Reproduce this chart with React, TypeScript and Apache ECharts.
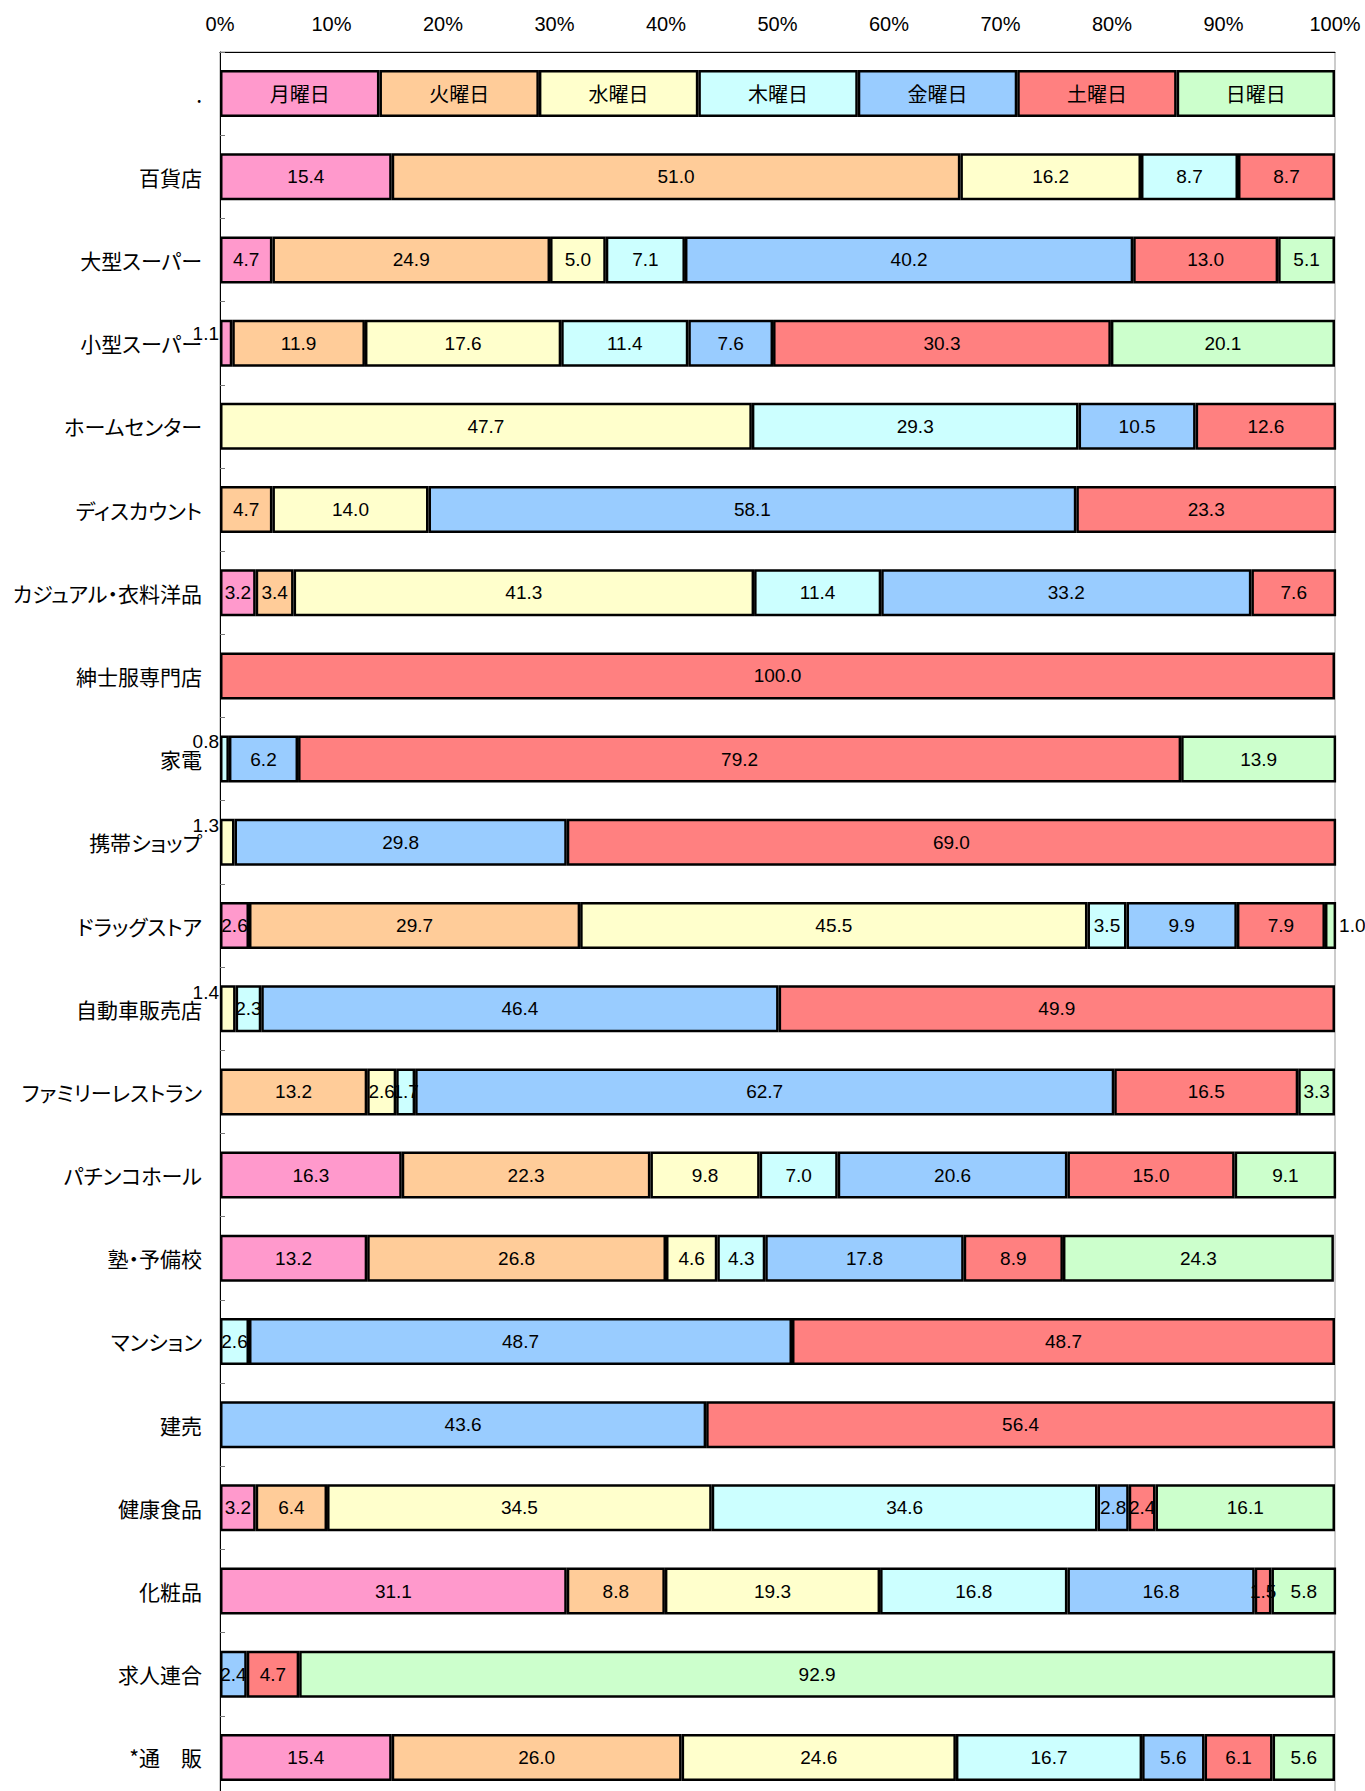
import React, { useEffect, useRef } from "react";
import * as echarts from "echarts";

const dayNames = ["月曜日", "火曜日", "水曜日", "木曜日", "金曜日", "土曜日", "日曜日"];
const dayColors = ["#FF99CC", "#FFCC99", "#FFFFCC", "#CCFFFF", "#99CCFF", "#FF8080", "#CCFFCC"];

const categories = [
  ".",
  "百貨店",
  "大型スーパー",
  "小型スーパー",
  "ホームセンター",
  "ディスカウント",
  "カジュアル・衣料洋品",
  "紳士服専門店",
  "家電",
  "携帯ショップ",
  "ドラッグストア",
  "自動車販売店",
  "ファミリーレストラン",
  "パチンコホール",
  "塾・予備校",
  "マンション",
  "建売",
  "健康食品",
  "化粧品",
  "求人連合",
  "*通　販",
];

// legend row (first category): equal segments carrying the day names
const legendRowValues = [14.3, 14.3, 14.3, 14.3, 14.3, 14.3, 14.2];

const monday = [15.4, 4.7, 1.1, null, null, 3.2, null, null, null, 2.6, null, null, 16.3, 13.2, null, null, 3.2, 31.1, null, 15.4];
const tuesday = [51.0, 24.9, 11.9, null, 4.7, 3.4, null, null, null, 29.7, null, 13.2, 22.3, 26.8, null, null, 6.4, 8.8, null, 26.0];
const wednesday = [16.2, 5.0, 17.6, 47.7, 14.0, 41.3, null, null, 1.3, 45.5, 1.4, 2.6, 9.8, 4.6, null, null, 34.5, 19.3, null, 24.6];
const thursday = [8.7, 7.1, 11.4, 29.3, null, 11.4, null, 0.8, null, 3.5, 2.3, 1.7, 7.0, 4.3, 2.6, null, 34.6, 16.8, null, 16.7];
const friday = [null, 40.2, 7.6, 10.5, 58.1, 33.2, null, 6.2, 29.8, 9.9, 46.4, 62.7, 20.6, 17.8, 48.7, 43.6, 2.8, 16.8, 2.4, 5.6];
const saturday = [8.7, 13.0, 30.3, 12.6, 23.3, 7.6, 100.0, 79.2, 69.0, 7.9, 49.9, 16.5, 15.0, 8.9, 48.7, 56.4, 2.4, 1.5, 4.7, 6.1];
const sunday = [null, 5.1, 20.1, null, null, null, null, 13.9, null, 1.0, null, 3.3, 9.1, 24.3, null, null, 16.1, 5.8, 92.9, 5.6];

const seriesValues = [monday, tuesday, wednesday, thursday, friday, saturday, sunday];

const xTicks = [0, 10, 20, 30, 40, 50, 60, 70, 80, 90, 100];

// labels drawn outside of their (very thin) segment: [row, day, side, dy]
const outsideLabels: [number, number, string, number][] = [
  [2, 0, "left", -10],
  [7, 3, "left", -18],
  [8, 2, "left", -17],
  [10, 2, "left", -16],
  [9, 6, "right", 0],
];

const NUM_FONT = "'Liberation Sans', Arial, sans-serif";
const CJK_FONT = "'Noto Sans CJK JP', sans-serif";

export default function App() {
  const ref = useRef<HTMLDivElement>(null);

  useEffect(() => {
    if (!ref.current) return;
    const chart = echarts.init(ref.current, undefined, { renderer: "svg" });

    const series = seriesValues.map((vals, d) => {
      const data: any[] = [
        {
          value: legendRowValues[d],
          label: { formatter: dayNames[d], fontFamily: CJK_FONT, fontSize: 20 },
        },
      ];
      vals.forEach((v, r) => {
        if (v === null) {
          data.push("-");
          return;
        }
        const o = outsideLabels.find((x) => x[0] === r && x[1] === d);
        if (o) {
          data.push({
            value: v,
            label: { position: o[2], distance: o[2] === "left" ? 1 : 3, offset: [0, o[3]] },
          });
        } else {
          data.push(v);
        }
      });
      return {
        name: dayNames[d],
        type: "bar",
        stack: "total",
        barWidth: 47,
        data,
        itemStyle: { color: dayColors[d], borderColor: "#000", borderWidth: 2.5 },
        label: {
          show: true,
          position: "inside",
          color: "#000",
          fontFamily: NUM_FONT,
          fontSize: 19,
          formatter: (p: any) => Number(p.value).toFixed(1),
        },
      };
    });

    chart.setOption({
      animation: false,
      backgroundColor: "#fff",
      grid: {
        left: 220,
        right: 30,
        top: 52,
        bottom: -8,
        containLabel: false,
        outerBoundsMode: "none",
        show: true,
        borderColor: "#999",
        borderWidth: 1,
      },
      xAxis: {
        type: "value",
        position: "top",
        min: xTicks[0],
        max: xTicks[xTicks.length - 1],
        interval: xTicks[1] - xTicks[0],
        axisLine: { show: true, lineStyle: { color: "#000", width: 1 } },
        axisTick: { show: false },
        splitLine: { show: false },
        axisLabel: {
          formatter: "{value}%",
          color: "#000",
          fontFamily: NUM_FONT,
          fontSize: 20,
          margin: 18,
        },
      },
      yAxis: {
        type: "category",
        inverse: true,
        data: categories,
        axisLine: { show: true, lineStyle: { color: "#000", width: 1 } },
        axisTick: { show: true, inside: true, length: 5, lineStyle: { color: "#777" } },
        axisLabel: {
          color: "#000",
          fontFamily: CJK_FONT,
          fontSize: 21,
          margin: 18,
          interval: 0,
          padding: [0, 0, 6, 0],
        },
      },
      series,
    });

    return () => chart.dispose();
  }, []);

  return (
    <>
      <style>{"svg text { font-feature-settings: 'palt' 1; }"}</style>
      <div
        ref={ref}
        style={{ position: "absolute", left: 0, top: 0, width: 1365, height: 1791 }}
      />
    </>
  );
}
